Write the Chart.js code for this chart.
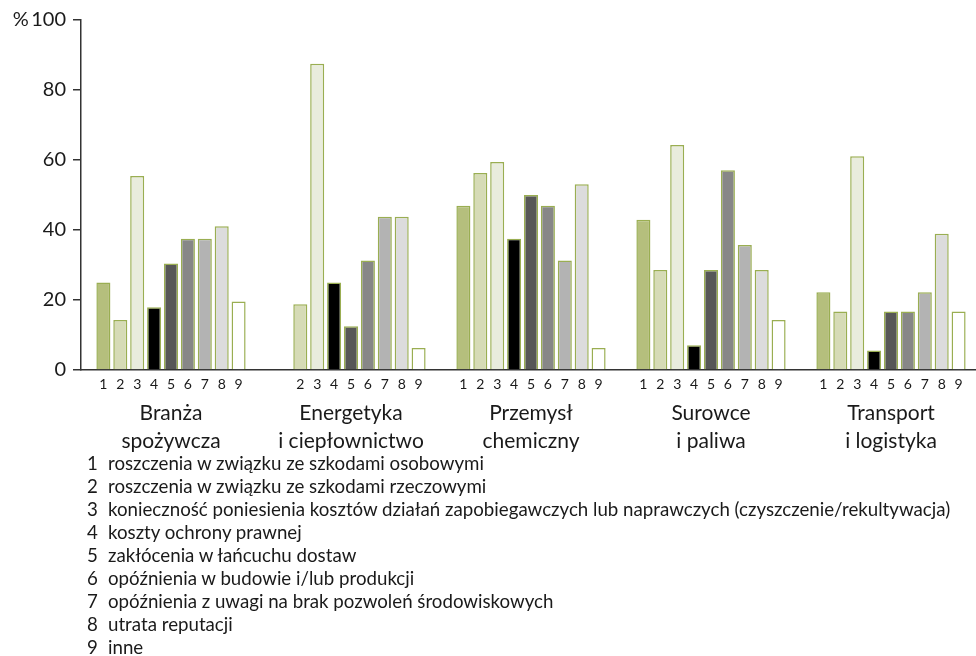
<!DOCTYPE html>
<html>
<head>
<meta charset="utf-8">
<title>Skutki szkód środowiskowych</title>
<script src="https://cdn.jsdelivr.net/npm/chart.js@4.4.0/dist/chart.umd.min.js"></script>
<style>
    html, body { margin: 0; padding: 0; background: #fff; overflow: hidden; }
    #wrap { position: relative; width: 986px; height: 455px; }
    #legend { position: absolute; left: 87px; top: 452px; font: 18.7px Lato, sans-serif; color: #1a1a1a; line-height: 23px; white-space: nowrap; }
    #legend span { display: inline-block; width: 21px; }
</style>
</head>
<body>
<div id="wrap"><canvas id="chart"></canvas></div>
<div id="legend"></div>

<script>
    // group names (two lines each) and the 9 answer options
    const groups = [
        ['Branża', 'spożywcza'],
        ['Energetyka', 'i ciepłownictwo'],
        ['Przemysł', 'chemiczny'],
        ['Surowce', 'i paliwa'],
        ['Transport', 'i logistyka'],
    ]
    const items = [
        'roszczenia w związku ze szkodami osobowymi',
        'roszczenia w związku ze szkodami rzeczowymi',
        'konieczność poniesienia kosztów działań zapobiegawczych lub naprawczych (czyszczenie/rekultywacja)',
        'koszty ochrony prawnej',
        'zakłócenia w łańcuchu dostaw',
        'opóźnienia w budowie i/lub produkcji',
        'opóźnienia z uwagi na brak pozwoleń środowiskowych',
        'utrata reputacji',
        'inne',
    ]

    // values in %, one array per option, in group order
    const v1 = [25.0, null, 46.9, 42.9, 22.2]
    const v2 = [14.3, 18.8, 56.3, 28.6, 16.7]
    const v3 = [55.4, 87.5, 59.4, 64.3, 61.1]
    const v4 = [17.9, 25.0, 37.5, 7.1, 5.6]
    const v5 = [30.4, 12.5, 50.0, 28.6, 16.7]
    const v6 = [37.5, 31.3, 46.9, 57.1, 16.7]
    const v7 = [37.5, 43.8, 31.3, 35.7, 22.2]
    const v8 = [41.1, 43.8, 53.1, 28.6, 38.9]
    const v9 = [19.6, 6.3, 6.3, 14.3, 16.7]
    const series = [v1, v2, v3, v4, v5, v6, v7, v8, v9]

    const fills = ['#b5bf7d', '#d6dbb6', '#e9ecdd', '#000000', '#575757', '#878787', '#b3b3b3', '#dcdcdc', '#ffffff']
    const edge = '#9aae52'
    const ink = '#1a1a1a'

    // little numbers under every bar
    const barNumbers = {
        id: 'barNumbers',
        afterDatasetsDraw(chart) {
            const { ctx, chartArea } = chart
            ctx.save()
            ctx.font = '14px Lato, sans-serif'
            ctx.fillStyle = ink
            ctx.textAlign = 'center'
            ctx.textBaseline = 'middle'
            chart.data.datasets.forEach((ds, i) => {
                const meta = chart.getDatasetMeta(i)
                ds.data.forEach((v, j) => {
                    if (v == null) return
                    ctx.fillText(String(i + 1), meta.data[j].x, chartArea.bottom + 14)
                })
            })
            ctx.restore()
        },
    }

    new Chart(document.getElementById('chart'), {
        type: 'bar',
        data: {
            labels: groups,
            datasets: series.map((data, i) => ({
                label: String(i + 1),
                data,
                backgroundColor: fills[i],
                borderColor: edge,
                borderWidth: 1.5,
                categoryPercentage: 0.845,
                barPercentage: 0.83,
            })),
        },
        options: {
            responsive: true,
            maintainAspectRatio: false,
            animation: false,
            layout: { padding: { top: 20, right: 5, left: 0, bottom: 0 } },
            plugins: { legend: { display: false }, tooltip: { enabled: false } },
            scales: {
                x: {
                    grid: { display: false, drawTicks: false },
                    border: { display: true, color: '#333', width: 1.5 },
                    ticks: {
                        color: ink,
                        padding: 29,
                        maxRotation: 0,
                        autoSkip: false,
                        font: { family: 'Lato', size: 21, lineHeight: 1.35 },
                    },
                    afterFit: s => { s.height = 85 },
                },
                y: {
                    min: 0,
                    max: 100,
                    grid: { drawOnChartArea: false, drawTicks: true, tickLength: 8, color: '#333', lineWidth: 1.5 },
                    border: { display: true, color: '#333', width: 1.5 },
                    ticks: {
                        stepSize: 20,
                        color: ink,
                        padding: 7,
                        font: { family: 'Lato', size: 20 },
                        callback: v => (v === 100 ? '%\u2009100' : v),
                    },
                    afterFit: s => { s.width = 81 },
                },
            },
        },
        plugins: [barNumbers],
    })

    const legend = document.getElementById('legend')
    items.forEach((t, i) => {
        const row = document.createElement('div')
        row.innerHTML = `<span>${i + 1}</span>${t}`
        legend.appendChild(row)
    })
</script>
</body>
</html>
